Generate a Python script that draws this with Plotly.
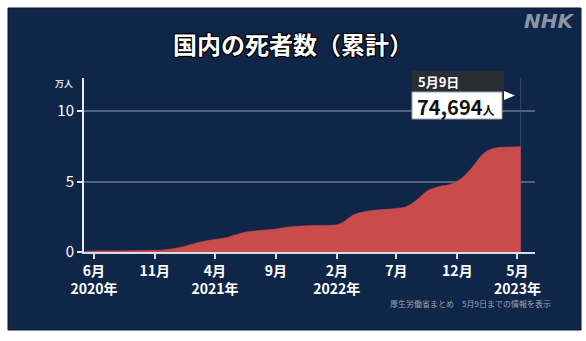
import plotly.graph_objects as go

# Cumulative COVID-19 deaths in Japan (unit: 10,000 people)
dates = [
    "2020-05-09", "2020-06-01", "2020-08-01", "2020-10-01", "2020-11-22",
    "2021-01-04", "2021-02-16", "2021-03-11", "2021-04-21", "2021-05-08",
    "2021-06-11", "2021-07-15", "2021-08-26", "2021-10-07", "2021-11-19",
    "2022-02-02", "2022-02-19", "2022-03-14", "2022-04-08", "2022-05-12",
    "2022-06-15", "2022-07-25", "2022-08-21", "2022-09-16", "2022-10-10",
    "2022-11-21", "2022-12-16", "2023-01-07", "2023-01-28", "2023-02-14",
    "2023-03-10", "2023-04-10", "2023-05-09",
]
deaths_man = [
    0.05, 0.07, 0.08, 0.11, 0.14,
    0.33, 0.66, 0.80, 0.97, 1.09,
    1.37, 1.51, 1.61, 1.79, 1.87,
    1.94, 2.15, 2.62, 2.84, 2.98,
    3.05, 3.21, 3.69, 4.33, 4.59,
    4.87, 5.34, 6.00, 6.76, 7.18,
    7.40, 7.45, 7.4694,
]

tick_dates = ["2020-06-01", "2020-11-01", "2021-04-01", "2021-09-01",
              "2022-02-01", "2022-07-01", "2022-12-01", "2023-05-01"]
tick_labels = ["6月<br>2020年", "11月", "4月<br>2021年", "9月",
               "2月<br>2022年", "7月", "12月", "5月<br>2023年"]
y_ticks = [0, 5, 10]

title_text = "国内の死者数（累計）"
unit_text = "万人"
date_label = "5月9日"
source_text = "厚生労働省まとめ　5月9日までの情報を表示"

W, H = 586, 341
L, R, T, B = 84, 51, 78, 89
PW, PH = W - L - R, H - T - B
FONT = "Noto Sans CJK JP"
NAVY = "#0f2649"


def px(x):
    return (x - L) / PW


def py(y):
    return (H - B - y) / PH


last_value = deaths_man[-1]
last_people = round(last_value * 10000)

fig = go.Figure()
fig.add_trace(go.Scatter(
    x=dates, y=deaths_man, mode="lines",
    line=dict(color="#c94b4b", width=0.5, shape="spline", smoothing=0.8),
    fill="tozeroy", fillcolor="#c94b4b", hoverinfo="skip",
))

outline = ("1px 1px 0 #000, -1px -1px 0 #000, 1px -1px 0 #000, -1px 1px 0 #000, "
           "0 1px 0 #000, 0 -1px 0 #000, 1px 0 0 #000, -1px 0 0 #000")

shapes = [
    # dark panel
    dict(type="rect", xref="paper", yref="paper", x0=px(8), x1=px(581),
         y0=py(330), y1=py(8), fillcolor=NAVY, line=dict(color="#0a1a33", width=1),
         layer="below"),
    # marker line at the latest date
    dict(type="line", xref="x", yref="paper", x0=dates[-1], x1=dates[-1],
         y0=0, y1=1, line=dict(color="#33466b", width=1), layer="below"),
    # date box
    dict(type="rect", xref="paper", yref="paper", x0=px(412), x1=px(504),
         y0=py(92), y1=py(71), fillcolor="#2a2d33", line=dict(width=0)),
    # value box
    dict(type="rect", xref="paper", yref="paper", x0=px(412), x1=px(502),
         y0=py(119), y1=py(92), fillcolor="#ffffff",
         line=dict(color="#9aa0aa", width=1)),
    # pointer triangle
    dict(type="path", xref="paper", yref="paper",
         path=f"M {px(504)},{py(91)} L {px(515)},{py(95.5)} L {px(504)},{py(100)} Z",
         fillcolor="#ffffff", line=dict(width=0)),
]

annotations = [
    dict(text=title_text, xref="paper", yref="paper", x=px(293), y=py(43.5),
         showarrow=False, xanchor="center", yanchor="middle",
         font=dict(family=FONT, size=24, color="#ffffff", weight="bold",
                   shadow=outline)),
    dict(text="NHK", xref="paper", yref="paper", x=px(576), y=py(21),
         showarrow=False, xanchor="right", yanchor="middle",
         font=dict(family="DejaVu Sans", size=20, color="#8c95a6", weight="bold",
                   style="italic")),
    dict(text=unit_text, xref="paper", yref="paper", x=px(75), y=py(83),
         showarrow=False, xanchor="right", yanchor="middle",
         font=dict(family=FONT, size=9, color="#d8dce4", weight="bold")),
    dict(text=date_label, xref="paper", yref="paper", x=px(416), y=py(81.5),
         showarrow=False, xanchor="left", yanchor="middle",
         font=dict(family=FONT, size=13, color="#ffffff", weight="bold")),
    dict(text=(f"{last_people:,}<span style='font-size:12px'>人</span>"),
         xref="paper", yref="paper", x=px(415), y=py(106),
         showarrow=False, xanchor="left", yanchor="middle",
         font=dict(family=FONT, size=20, color="#111111", weight="bold")),
    dict(text=source_text, xref="paper", yref="paper", x=px(553), y=py(303),
         showarrow=False, xanchor="right", yanchor="middle",
         font=dict(family=FONT, size=8, color="#9aa3b4")),
]

fig.update_layout(
    width=W, height=H,
    margin=dict(l=L, r=R, t=T, b=B, pad=0),
    paper_bgcolor="#ffffff",
    plot_bgcolor="rgba(0,0,0,0)",
    showlegend=False,
    shapes=shapes,
    annotations=annotations,
    font=dict(family=FONT, color="#ffffff"),
    xaxis=dict(
        type="date", range=["2020-05-07", "2023-06-14"],
        tickmode="array", tickvals=tick_dates, ticktext=tick_labels,
        ticks="outside", ticklen=5, tickwidth=2, tickcolor="#d9dce3",
        showline=True, linecolor="#d9dce3", linewidth=2,
        showgrid=False, zeroline=False,
        tickfont=dict(family=FONT, size=14, color="#ffffff", weight="bold"),
        fixedrange=True,
    ),
    yaxis=dict(
        range=[0, PH / 14.1],
        tickmode="array", tickvals=y_ticks, ticktext=[str(v) for v in y_ticks],
        ticks="outside", ticklen=5, tickwidth=2, tickcolor="#e6e8ee",
        showline=True, linecolor="#e6e8ee", linewidth=2,
        showgrid=True, gridcolor="#56627c", gridwidth=1.5,
        zeroline=False,
        tickfont=dict(family=FONT, size=15, color="#ffffff"),
        fixedrange=True,
    ),
)

fig.write_html("out.html")
